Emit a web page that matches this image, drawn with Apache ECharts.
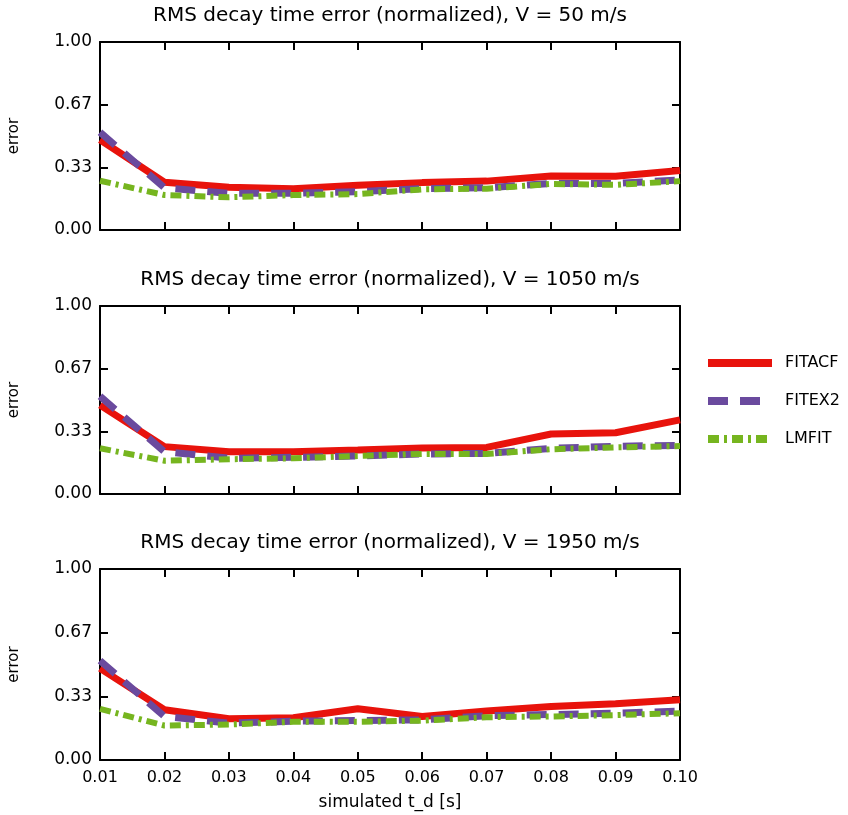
<!DOCTYPE html>
<html><head><meta charset="utf-8">
<script src="https://cdn.jsdelivr.net/npm/echarts@6/dist/echarts.min.js"></script>
<style>html,body{margin:0;padding:0;background:#fff}#c{width:848px;height:815px}</style>
</head><body><div id="c"></div>
<script>
const categories = ['0.01','0.02','0.03','0.04','0.05','0.06','0.07','0.08','0.09','0.10'];
const panelTitles = [
  'RMS decay time error (normalized), V = 50 m/s',
  'RMS decay time error (normalized), V = 1050 m/s',
  'RMS decay time error (normalized), V = 1950 m/s'
];
const seriesNames = ['FITACF','FITEX2','LMFIT'];
// V = 50 m/s
const fitacf50  = [0.48,0.254,0.227,0.22,0.238,0.252,0.26,0.287,0.286,0.317];
const fitex250  = [0.52,0.225,0.195,0.195,0.204,0.22,0.225,0.248,0.248,0.266];
const lmfit50   = [0.262,0.186,0.174,0.186,0.191,0.216,0.22,0.245,0.24,0.26];
// V = 1050 m/s
const fitacf1050 = [0.473,0.252,0.225,0.225,0.234,0.245,0.248,0.319,0.326,0.394];
const fitex21050 = [0.52,0.225,0.19,0.195,0.202,0.213,0.216,0.243,0.254,0.259];
const lmfit1050  = [0.243,0.177,0.185,0.19,0.202,0.213,0.213,0.238,0.248,0.255];
// V = 1950 m/s
const fitacf1950 = [0.48,0.263,0.216,0.221,0.268,0.228,0.256,0.28,0.295,0.316];
const fitex21950 = [0.52,0.228,0.193,0.203,0.207,0.21,0.232,0.238,0.245,0.256];
const lmfit1950  = [0.268,0.18,0.186,0.2,0.2,0.206,0.224,0.228,0.235,0.245];
const yTickLabels = ['0.00','0.33','0.67','1.00'];

const panels = [
  [fitacf50, fitex250, lmfit50],
  [fitacf1050, fitex21050, lmfit1050],
  [fitacf1950, fitex21950, lmfit1950]
];
const grids = [
  {left:100, top:42, width:580, height:188, outerBoundsMode:'none'},
  {left:100, top:306, width:580, height:188, outerBoundsMode:'none'},
  {left:100, top:569, width:580, height:191, outerBoundsMode:'none'}
];
const colors = ['#e8130c','#6a4a9e','#76b51f'];
const lineStyles = [
  {width:7, type:'solid'},
  {width:7, type:[20,12]},
  {width:6, type:[11,5,3,5]}
];
const FONT = 'DejaVu Sans';
const axisLine = {show:true, onZero:false, lineStyle:{color:'#000', width:2}};
const tick = {show:true, inside:true, length:8, lineStyle:{color:'#000', width:2}};

const xAxis = [], yAxis = [], series = [], graphic = [];
grids.forEach((g, i) => {
  const last = i === grids.length - 1;
  xAxis.push({
    type:'category', gridIndex:i, data:categories, boundaryGap:false, position:'bottom',
    axisLine, axisTick:tick,
    axisLabel:{show:last, color:'#000', fontFamily:FONT, fontSize:16, margin:10},
    splitLine:{show:false},
    name: last ? 'simulated t_d [s]' : '', nameLocation:'middle', nameGap:34,
    nameTextStyle:{color:'#000', fontFamily:FONT, fontSize:17}
  });
  xAxis.push({
    type:'category', gridIndex:i, data:categories, boundaryGap:false, position:'top',
    axisLine, axisTick:tick, axisLabel:{show:false}, splitLine:{show:false}
  });
  yAxis.push({
    type:'value', gridIndex:i, min:0, max:1, interval:1/3, position:'left',
    axisLine, axisTick:tick, splitLine:{show:false},
    axisLabel:{color:'#000', fontFamily:FONT, fontSize:17, margin:8,
      formatter: v => yTickLabels[Math.round(v*3)]},
    name:'error', nameLocation:'middle', nameGap:78, nameRotate:90,
    nameTextStyle:{color:'#000', fontFamily:FONT, fontSize:15}
  });
  yAxis.push({
    type:'value', gridIndex:i, min:0, max:1, interval:1/3, position:'right',
    axisLine, axisTick:tick, axisLabel:{show:false}, splitLine:{show:false}
  });
  panels[i].forEach((d, k) => {
    series.push({
      type:'line', name:seriesNames[k], xAxisIndex:2*i, yAxisIndex:2*i,
      data:d, symbol:'none', smooth:false, color:colors[k],
      lineStyle:Object.assign({color:colors[k]}, lineStyles[k]),
      z: 2 + k, animation:false
    });
  });
  graphic.push({
    type:'text', x: g.left + g.width/2, y: g.top - 36,
    style:{text:panelTitles[i], textAlign:'center', textVerticalAlign:'top', fill:'#000',
      font:'20px "DejaVu Sans"'}
  });
});

const chart = echarts.init(document.getElementById('c'), null, {renderer:'canvas'});
chart.setOption({
  backgroundColor:'#fff',
  animation:false,
  grid:grids,
  xAxis, yAxis, series,
  legend:{
    orient:'vertical', left:704, top:355, padding:0, itemGap:22, itemWidth:64, itemHeight:16,
    data: seriesNames.map((n, k) => ({
      name:n,
      itemStyle:{opacity:0},
      lineStyle:Object.assign({color:colors[k]}, lineStyles[k], {width:8})
    })),
    textStyle:{color:'#000', fontFamily:FONT, fontSize:16, padding:[0,0,0,8]}
  },
  graphic
});
</script></body></html>
